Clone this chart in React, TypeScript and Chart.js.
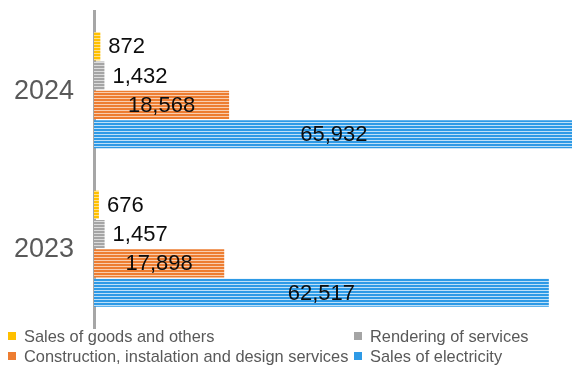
import React, { useEffect, useRef } from "react";
import { Chart, registerables } from "chart.js";

Chart.register(...registerables);

const categories = ["2024", "2023"];
const seriesNames = [
  "Sales of goods and others",
  "Rendering of services",
  "Construction, instalation and design services",
  "Sales of electricity",
];
const salesOfGoods = [872, 676];
const renderingServices = [1432, 1457];
const construction = [18568, 17898];
const electricity = [65932, 62517];
const xMax = 65700;

const FONT = "'Liberation Sans', Arial, sans-serif";
const solid = ["#FFC000", "#A5A5A5", "#ED7D31", "#2E9AE6"];
const light = ["#FFE08A", "#DCDCDC", "#F9CDAE", "#BEE0F8"];

function stripe(dark: string, lite: string): CanvasPattern | string {
  const c = document.createElement("canvas");
  c.width = 4;
  c.height = 3;
  const ctx = c.getContext("2d");
  if (!ctx) return dark;
  ctx.fillStyle = dark;
  ctx.fillRect(0, 0, 4, 3);
  ctx.fillStyle = lite;
  ctx.fillRect(0, 2, 4, 1);
  return ctx.createPattern(c, "repeat") || dark;
}

const fmt = (v: number) => v.toLocaleString("en-US");

const labelPlugin = {
  id: "barLabels",
  afterDatasetsDraw(chart: any) {
    const ctx = chart.ctx;
    ctx.save();
    // category labels
    const yScale = chart.scales.y;
    ctx.font = "27px " + FONT;
    ctx.fillStyle = "#595959";
    ctx.textAlign = "right";
    ctx.textBaseline = "middle";
    chart.data.labels.forEach((lab: string, i: number) => {
      ctx.fillText(lab, chart.chartArea.left - 20, yScale.getPixelForValue(i) + 1);
    });
    // value labels
    ctx.font = "22px " + FONT;
    ctx.fillStyle = "#0D0D0D";
    chart.data.datasets.forEach((ds: any, di: number) => {
      const meta = chart.getDatasetMeta(di);
      meta.data.forEach((bar: any, i: number) => {
        const txt = fmt(ds.data[i]);
        const w = ctx.measureText(txt).width;
        const barW = bar.x - bar.base;
        if (barW > w + 10) {
          ctx.textAlign = "center";
          ctx.fillText(txt, (bar.x + bar.base) / 2, bar.y + 1);
        } else {
          ctx.textAlign = "left";
          ctx.fillText(txt, bar.x + 8, bar.y + 1);
        }
      });
    });
    ctx.restore();
  },
};

export default function App() {
  const ref = useRef<HTMLCanvasElement>(null);
  useEffect(() => {
    if (!ref.current) return;
    const values = [salesOfGoods, renderingServices, construction, electricity];
    const chart = new Chart(ref.current, {
      type: "bar",
      data: {
        labels: categories,
        datasets: values.map((d, i) => ({
          label: seriesNames[i],
          data: d,
          backgroundColor: stripe(solid[i], light[i]) as any,
          borderWidth: 0,
          barPercentage: 0.96,
          categoryPercentage: 0.74,
        })),
      },
      options: {
        indexAxis: "y",
        animation: false,
        responsive: false,
        maintainAspectRatio: false,
        layout: { padding: { top: 11, bottom: 38, right: 0, left: 0 } },
        plugins: {
          legend: { display: false },
          tooltip: { enabled: false },
        },
        scales: {
          x: {
            display: false,
            min: 0,
            max: xMax,
          },
          y: {
            grid: { display: false, drawTicks: false },
            border: { display: true, color: "#A6A6A6", width: 3 },
            ticks: { display: false },
            afterFit: (s: any) => {
              s.width = 94;
            },
          },
        },
      },
      plugins: [labelPlugin],
    });
    return () => chart.destroy();
  }, []);

  const legendItem = (i: number, left: number, top: number) => (
    <div
      key={i}
      style={{
        position: "absolute",
        left,
        top,
        display: "flex",
        alignItems: "center",
        whiteSpace: "nowrap",
        fontFamily: FONT,
        fontSize: 16.4,
        color: "#595959",
        lineHeight: "18px",
      }}
    >
      <span
        style={{
          display: "inline-block",
          width: 8,
          height: 8,
          background: solid[i],
          marginRight: 8,
        }}
      />
      {seriesNames[i]}
    </div>
  );

  return (
    <div
      style={{
        position: "fixed",
        left: 0,
        top: 0,
        width: 572,
        height: 366,
        background: "#fff",
        overflow: "hidden",
      }}
    >
      <canvas ref={ref} width={572} height={366} style={{ display: "block" }} />
      {legendItem(0, 8, 327)}
      {legendItem(1, 354, 327)}
      {legendItem(2, 8, 347)}
      {legendItem(3, 354, 347)}
    </div>
  );
}
